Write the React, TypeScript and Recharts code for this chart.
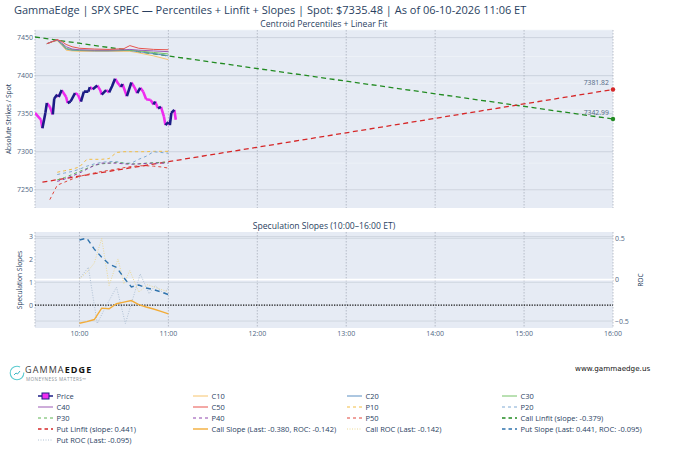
import { CartesianGrid, ComposedChart, Line, ReferenceDot, ReferenceLine, XAxis, YAxis } from "recharts";

// ---- data (times are minutes after midnight, ET) ----
const PRICE_TIMES = [
  570, 574, 575, 577, 578, 580, 582, 583, 585, 586, 588, 591, 592, 594, 597, 599,
  601, 603, 606, 607, 609, 612, 614, 615, 618, 620, 622, 624, 626, 628, 629, 632,
  635, 637, 639, 641, 643, 645, 648, 650, 651, 653, 655, 657, 658, 660, 661, 662,
  664, 665,
];
const PRICE_VALUES = [
  7351, 7342, 7331, 7351, 7364, 7359, 7349, 7370, 7375, 7372, 7381, 7372, 7364, 7366, 7377, 7375,
  7366, 7379, 7379, 7385, 7382, 7387, 7381, 7375, 7381, 7378, 7386, 7396, 7390, 7385, 7389, 7373,
  7391, 7385, 7377, 7384, 7379, 7369, 7368, 7362, 7366, 7357, 7359, 7346, 7335, 7339, 7335, 7351,
  7355, 7342,
];

const CALL_PCT_TIMES = [578, 582, 585, 588, 591, 595, 600, 610, 620, 630, 634, 640, 650, 660];
const C10 = [7442, 7444.5, 7446, 7440, 7433.5, 7432.5, 7432, 7432, 7432, 7432, 7432, 7430, 7426, 7421];
const C20 = [7442, 7445, 7446.5, 7441, 7435, 7433.5, 7433, 7432.5, 7432.5, 7433, 7433, 7431.5, 7429, 7426];
const C30 = [7442, 7445, 7447, 7442, 7436, 7434, 7433.5, 7433, 7433, 7433.5, 7433.5, 7432.5, 7430.5, 7428.5];
const C40 = [7442, 7445, 7447, 7443, 7438, 7435, 7434, 7433.5, 7433.5, 7434, 7434.5, 7433.5, 7432.5, 7431.5];
const C50 = [7442, 7445, 7447.5, 7445, 7441, 7438, 7436, 7435, 7434.5, 7435.5, 7439.5, 7436, 7434.5, 7434];

const PUT_PCT_TIMES = [580, 585, 590, 595, 600, 605, 610, 615, 620, 625, 630, 635, 640, 645, 650, 655, 660];
const P10 = [null, 7273, 7275, 7277, 7280, 7290, 7290, 7290, 7291, 7299, 7300, 7300, 7300, 7300, 7300.5, 7300.5, 7300.5];
const P20 = [null, 7270, 7272, 7274, 7277, 7281, 7284, 7286, 7287, 7287, 7285, 7285, 7290, 7294, 7300, 7299, 7298];
const P30 = [null, 7263, 7266, 7270, 7274, 7278, 7282, 7284, 7285, 7286, 7285, 7284, 7284, 7285, 7285.5, 7286, 7286];
const P40 = [null, 7261, 7264, 7268, 7272, 7277, 7282, 7285, 7285, 7285, 7284, 7283.5, 7284, 7284.5, 7285, 7285, 7285];
const P50 = [7237, 7256, 7260, 7264, 7267.5, 7270, 7272, 7274, 7275.5, 7277, 7279, 7280.5, 7281.5, 7281.5, 7281, 7280, 7278.5];

const CALL_LINFIT_TIMES = [570, 960];
const CALL_LINFIT = [7450.8, 7342.99];
const PUT_LINFIT_TIMES = [575, 960];
const PUT_LINFIT = [7260, 7381.82];

const SLOPE_TIMES = [600, 605, 610, 615, 620, 625, 630, 635, 640, 645, 650, 655, 660];
const PUT_SLOPE = [2.85, 2.93, 2.45, 2.1, 1.8, 1.65, 1.2, 0.8, 0.88, 0.75, 0.68, 0.58, 0.46];
const CALL_SLOPE = [-0.79, -0.72, -0.63, -0.13, -0.16, 0.06, 0.13, 0.2, 0.02, -0.08, -0.17, -0.27, -0.38];

const CALL_ROC_TIMES = [600, 605, 610, 615, 620, 626, 630, 634, 640, 646, 652, 657, 660];
const CALL_ROC = [0.01, 0.09, 0.2, 0.5, -0.07, 0.25, -0.05, 0.11, -0.15, -0.06, -0.1, -0.13, -0.142];
const PUT_ROC_TIMES = [600, 606, 612, 617, 625, 631, 641, 647, 651, 657, 660];
const PUT_ROC = [0.01, 0.15, -0.53, -0.35, -0.09, -0.53, 0.07, -0.17, -0.07, -0.17, -0.095];

const HOUR_TICKS = [600, 660, 720, 780, 840, 900, 960];
const HOUR_LINES = [570, 600, 660, 720, 780, 840, 900, 960];
const STRIKE_TICKS = [7250, 7300, 7350, 7400, 7450];
const SLOPE_TICKS = [0, 1, 2, 3];
const ROC_TICKS = [-0.5, 0, 0.5];

// minor gridlines every 5 points
const STRIKE_MINOR: number[] = [];
for (let v = 7230; v <= 7460; v += 5) STRIKE_MINOR.push(v);

const COLORS = {
  c10: "#f7c46c",
  c20: "#5b8fc2",
  c30: "#74c267",
  c40: "#9c5bb5",
  c50: "#e8534c",
  p10: "#f2bd45",
  p20: "#7fa9d3",
  p30: "#5db352",
  p40: "#8e44ad",
  p50: "#e0453a",
  callFit: "#228b22",
  putFit: "#d62728",
  callSlope: "#f2ac38",
  putSlope: "#2f73ad",
  callRoc: "#ecd995",
  putRoc: "#b0c1d4",
  up: "#1c1c86",
  down: "#ef2cef",
};

const FONT = "'Open Sans', 'DejaVu Sans', sans-serif";
const INK = "#2a3f5f";
const TICK = { fontSize: 7, fill: "#506784", fontFamily: FONT };
const VGRID = { stroke: "#a9b0bc", strokeDasharray: "1.5 1.5", strokeWidth: 0.8 };

const toRows = (times: number[], values: (number | null)[]) =>
  times.map((t, i) => ({ t, v: values[i] }));

// split the price into rising / falling runs, each segment separated by a null
function priceSegments(rising: boolean) {
  const rows: { t: number; v: number | null }[] = [];
  for (let i = 1; i < PRICE_TIMES.length; i++) {
    const up = PRICE_VALUES[i] >= PRICE_VALUES[i - 1];
    if (up !== rising) continue;
    rows.push({ t: PRICE_TIMES[i - 1], v: PRICE_VALUES[i - 1] });
    rows.push({ t: PRICE_TIMES[i], v: PRICE_VALUES[i] });
    rows.push({ t: PRICE_TIMES[i], v: null });
  }
  return rows;
}

const fmtHour = (m: number) => `${Math.floor(m / 60)}:${String(m % 60).padStart(2, "0")}`;

const CALLS = [
  { key: "C10", values: C10, color: COLORS.c10 },
  { key: "C20", values: C20, color: COLORS.c20 },
  { key: "C30", values: C30, color: COLORS.c30 },
  { key: "C40", values: C40, color: COLORS.c40 },
  { key: "C50", values: C50, color: COLORS.c50 },
];
const PUTS = [
  { key: "P10", values: P10, color: COLORS.p10 },
  { key: "P20", values: P20, color: COLORS.p20 },
  { key: "P30", values: P30, color: COLORS.p30 },
  { key: "P40", values: P40, color: COLORS.p40 },
  { key: "P50", values: P50, color: COLORS.p50 },
];

type LegendItem = { label: string; color?: string; dash?: string; width?: number; price?: boolean };
const LEGEND: LegendItem[] = [
  { label: "Price", price: true },
  { label: "C10", color: COLORS.c10 },
  { label: "C20", color: COLORS.c20 },
  { label: "C30", color: COLORS.c30 },
  { label: "C40", color: COLORS.c40 },
  { label: "C50", color: COLORS.c50 },
  { label: "P10", color: COLORS.p10, dash: "3 3" },
  { label: "P20", color: COLORS.p20, dash: "3 3" },
  { label: "P30", color: COLORS.p30, dash: "3 3" },
  { label: "P40", color: COLORS.p40, dash: "3 3" },
  { label: "P50", color: COLORS.p50, dash: "3 3" },
  { label: "Call Linfit (slope: -0.379)", color: COLORS.callFit, dash: "3.5 3", width: 1.4 },
  { label: "Put Linfit (slope: 0.441)", color: COLORS.putFit, dash: "3.5 3", width: 1.4 },
  { label: "Call Slope (Last: -0.380, ROC: -0.142)", color: COLORS.callSlope, width: 1.4 },
  { label: "Call ROC (Last: -0.142)", color: COLORS.callRoc, dash: "1 1.5" },
  { label: "Put Slope (Last: 0.441, ROC: -0.095)", color: COLORS.putSlope, dash: "3.5 3", width: 1.4 },
  { label: "Put ROC (Last: -0.095)", color: COLORS.putRoc, dash: "1 1.5" },
];

function EndLabel(props: any) {
  const { viewBox, value } = props;
  return (
    <text x={viewBox.x - 2} y={viewBox.y - 2} textAnchor="end" fontSize={6.8} fill="#506784" fontFamily={FONT}>
      {value}
    </text>
  );
}

function LegendIcon({ item }: { item: LegendItem }) {
  if (item.price) {
    return (
      <svg width={15} height={8}>
        <line x1={0} y1={4} x2={15} y2={4} stroke={COLORS.up} strokeWidth={1.5} />
        <rect x={4} y={1} width={7} height={6} fill={COLORS.down} stroke={COLORS.up} strokeWidth={1} />
      </svg>
    );
  }
  return (
    <svg width={15} height={8}>
      <line x1={0} y1={4} x2={15} y2={4} stroke={item.color} strokeWidth={item.width ?? 1} strokeDasharray={item.dash} />
    </svg>
  );
}

const rotated = (left: number, top: number) => ({
  position: "absolute" as const,
  left,
  top,
  fontSize: 6.7,
  whiteSpace: "nowrap" as const,
  transform: "translate(-50%, -50%) rotate(-90deg)",
});

export default function App() {
  const upRows = priceSegments(true);
  const downRows = priceSegments(false);

  return (
    <div style={{ position: "absolute", left: 0, top: 0, width: 680, height: 453, background: "#fff", fontFamily: FONT, color: INK, overflow: "hidden" }}>
      <div style={{ position: "absolute", left: 14, top: 2, fontSize: 11, whiteSpace: "nowrap" }}>
        GammaEdge | SPX SPEC — Percentiles + Linfit + Slopes | Spot: $7335.48 | As of 06-10-2026 11:06 ET
      </div>
      <div style={{ position: "absolute", left: 35, width: 578, top: 17.5, fontSize: 8.6, textAlign: "center" }}>
        Centroid Percentiles + Linear Fit
      </div>
      <div style={{ position: "absolute", left: 35, width: 578, top: 220, fontSize: 8.6, textAlign: "center" }}>
        Speculation Slopes (10:00–16:00 ET)
      </div>
      <div style={rotated(7.5, 119)}>Absolute Strikes / Spot</div>
      <div style={rotated(19, 280)}>Speculation Slopes</div>
      <div style={rotated(640, 280)}>ROC</div>

      <div style={{ position: "absolute", left: 0, top: 0 }}>
        <ComposedChart width={680} height={212} margin={{ top: 30, right: 67, bottom: 4, left: 0 }}>
          <CartesianGrid fill="#e6ebf4" vertical={false} horizontalValues={STRIKE_MINOR} stroke="#f4f6fa" strokeWidth={0.6} />
          <CartesianGrid vertical={false} horizontalValues={STRIKE_TICKS} stroke="#c5ccd8" strokeWidth={0.8} />
          <CartesianGrid horizontal={false} verticalValues={HOUR_LINES} {...VGRID} />
          <XAxis type="number" dataKey="t" domain={[570, 960]} allowDataOverflow hide />
          <YAxis
            type="number"
            domain={[7226, 7460]}
            ticks={STRIKE_TICKS}
            width={35}
            tickLine={false}
            axisLine={false}
            tickSize={0}
            tickMargin={2}
            tick={TICK}
            allowDataOverflow
          />
          <Line data={toRows(CALL_LINFIT_TIMES, CALL_LINFIT)} dataKey="v" stroke={COLORS.callFit} strokeWidth={1.3} strokeDasharray="5 3.5" dot={false} isAnimationActive={false} />
          <Line data={toRows(PUT_LINFIT_TIMES, PUT_LINFIT)} dataKey="v" stroke={COLORS.putFit} strokeWidth={1.3} strokeDasharray="5 3.5" dot={false} isAnimationActive={false} />
          {CALLS.map((s) => (
            <Line key={s.key} data={toRows(CALL_PCT_TIMES, s.values)} dataKey="v" stroke={s.color} strokeWidth={1} dot={false} isAnimationActive={false} />
          ))}
          {PUTS.map((s) => (
            <Line key={s.key} data={toRows(PUT_PCT_TIMES, s.values)} dataKey="v" stroke={s.color} strokeWidth={1} strokeDasharray="3 3" dot={false} isAnimationActive={false} />
          ))}
          <Line data={downRows} dataKey="v" stroke={COLORS.down} strokeWidth={2.6} dot={false} isAnimationActive={false} />
          <Line data={upRows} dataKey="v" stroke={COLORS.up} strokeWidth={2.6} dot={false} isAnimationActive={false} />
          <ReferenceDot x={960} y={PUT_LINFIT[1]} r={2.2} fill={COLORS.putFit} stroke="none" label={<EndLabel value={PUT_LINFIT[1].toFixed(2)} />} />
          <ReferenceDot x={960} y={CALL_LINFIT[1]} r={2.2} fill={COLORS.callFit} stroke="none" label={<EndLabel value={CALL_LINFIT[1].toFixed(2)} />} />
        </ComposedChart>
      </div>

      {/* hour guides running through the gap between the two panels */}
      <div style={{ position: "absolute", left: 0, top: 208 }}>
        <ComposedChart width={680} height={24} margin={{ top: 0, right: 67, bottom: 0, left: 35 }}>
          <CartesianGrid horizontal={false} verticalValues={HOUR_LINES} {...VGRID} />
          <XAxis type="number" dataKey="t" domain={[570, 960]} hide />
          <YAxis hide domain={[0, 1]} />
        </ComposedChart>
      </div>

      <div style={{ position: "absolute", left: 0, top: 215 }}>
        <ComposedChart width={680} height={130} margin={{ top: 17, right: 0, bottom: 4, left: 0 }}>
          <CartesianGrid fill="#e6ebf4" vertical={false} yAxisId="s" horizontalValues={SLOPE_TICKS} stroke="#c9d0db" strokeWidth={0.8} />
          <CartesianGrid vertical={false} yAxisId="roc" horizontalValues={ROC_TICKS} stroke="#c9d0db" strokeWidth={0.8} />
          <CartesianGrid horizontal={false} yAxisId="s" verticalValues={HOUR_LINES} {...VGRID} />
          <XAxis
            type="number"
            dataKey="t"
            domain={[570, 960]}
            ticks={HOUR_TICKS}
            tickFormatter={fmtHour}
            height={13}
            tickLine={false}
            axisLine={false}
            tickSize={0}
            tickMargin={3}
            tick={TICK}
            allowDataOverflow
          />
          <YAxis yAxisId="s" type="number" domain={[-1, 3.2]} ticks={SLOPE_TICKS} width={35} tickLine={false} axisLine={false} tickSize={0} tickMargin={2} tick={TICK} allowDataOverflow />
          <YAxis yAxisId="roc" orientation="right" type="number" domain={[-0.584, 0.576]} ticks={ROC_TICKS} width={67} tickLine={false} axisLine={false} tickSize={0} tickMargin={2} tick={TICK} tickFormatter={(v: number) => (v < 0 ? `−${Math.abs(v)}` : `${v}`)} allowDataOverflow />
          <ReferenceLine yAxisId="roc" y={0} stroke="#ffffff" strokeWidth={1.6} />
          <ReferenceLine yAxisId="s" y={0} stroke="#111" strokeWidth={1.4} strokeDasharray="1.3 1.3" />
          <Line yAxisId="roc" data={toRows(PUT_ROC_TIMES, PUT_ROC)} dataKey="v" stroke={COLORS.putRoc} strokeWidth={1} strokeDasharray="1 1.5" dot={false} isAnimationActive={false} />
          <Line yAxisId="roc" data={toRows(CALL_ROC_TIMES, CALL_ROC)} dataKey="v" stroke={COLORS.callRoc} strokeWidth={1} strokeDasharray="1 1.5" dot={false} isAnimationActive={false} />
          <Line yAxisId="s" data={toRows(SLOPE_TIMES, CALL_SLOPE)} dataKey="v" stroke={COLORS.callSlope} strokeWidth={1.4} dot={false} isAnimationActive={false} />
          <Line yAxisId="s" data={toRows(SLOPE_TIMES, PUT_SLOPE)} dataKey="v" stroke={COLORS.putSlope} strokeWidth={1.4} strokeDasharray="5 4" dot={false} isAnimationActive={false} />
        </ComposedChart>
      </div>

      {/* brand */}
      <svg style={{ position: "absolute", left: 9, top: 365 }} width={16} height={16}>
        <circle cx={8} cy={8} r={6.8} fill="none" stroke="#5ccbd0" strokeWidth={1.1} strokeDasharray="35 7" />
        <polyline points="5,10 7,8 8.5,9 11,6" fill="none" stroke="#3bb5c4" strokeWidth={1} />
      </svg>
      <div style={{ position: "absolute", left: 25, top: 365, fontSize: 9, lineHeight: "9px", letterSpacing: 1.1, color: "#3a3a3a", whiteSpace: "nowrap" }}>
        GAMMA<b style={{ color: "#111" }}>EDGE</b>
      </div>
      <div style={{ position: "absolute", left: 26, top: 376.5, fontSize: 4.6, lineHeight: "5px", letterSpacing: 0.45, color: "#8a9096", whiteSpace: "nowrap" }}>
        MONEYNESS MATTERS™
      </div>
      <div style={{ position: "absolute", left: 575, top: 364, fontSize: 7.2, color: "#111", whiteSpace: "nowrap", fontFamily: "'DejaVu Sans', sans-serif" }}>
        www.gammaedge.us
      </div>

      <div
        style={{
          position: "absolute",
          left: 38,
          top: 391,
          display: "grid",
          gridTemplateColumns: "155px 154px 155px 150px",
          gridAutoRows: "10.8px",
          fontSize: 7.5,
          color: INK,
        }}
      >
        {LEGEND.map((item) => (
          <div key={item.label} style={{ display: "flex", alignItems: "center", whiteSpace: "nowrap" }}>
            <LegendIcon item={item} />
            <span style={{ marginLeft: 3.5 }}>{item.label}</span>
          </div>
        ))}
      </div>
    </div>
  );
}
